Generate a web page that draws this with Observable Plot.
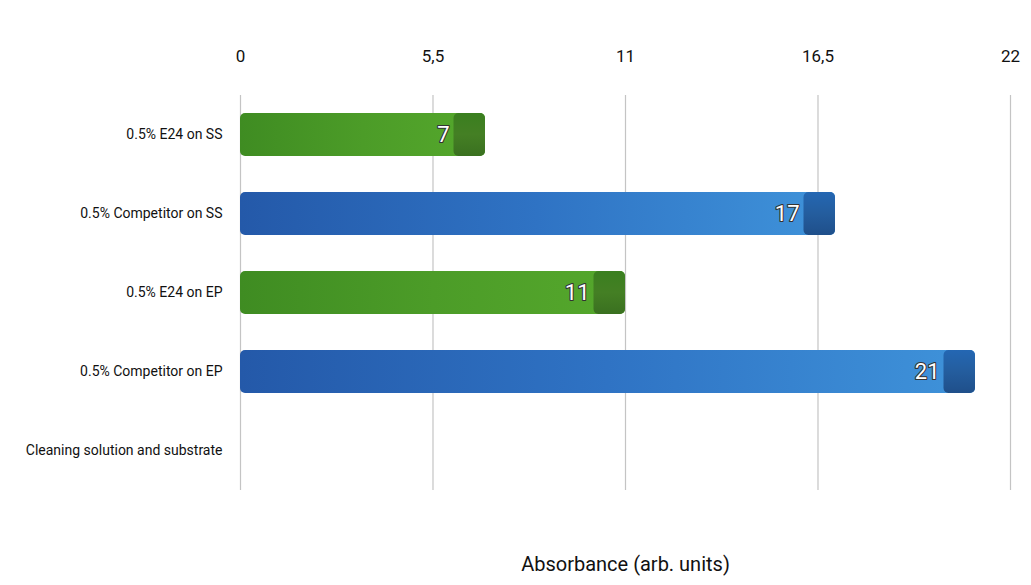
<!DOCTYPE html>
<html>
<head>
<meta charset="utf-8">
<script src="https://cdn.jsdelivr.net/npm/d3@7"></script>
<script src="https://cdn.jsdelivr.net/npm/@observablehq/plot@0.6"></script>
<style>
  html, body { margin: 0; padding: 0; background: #ffffff; }
  #chart { width: 1031px; height: 585px; }
  #chart svg { font-family: "Roboto", "DejaVu Sans", sans-serif; }
</style>
</head>
<body>
<div id="chart"></div>
<script>
// ---- data ----
const categories = [
  "0.5% E24 on SS",
  "0.5% Competitor on SS",
  "0.5% E24 on EP",
  "0.5% Competitor on EP",
  "Cleaning solution and substrate"
];
const values = [7, 17, 11, 21, null];
const series = ["E24", "Competitor", "E24", "Competitor", null];
const tickValues = [0, 5.5, 11, 16.5, 22];
const tickLabels = ["0", "5,5", "11", "16,5", "22"];
const axisTitle = "Absorbance (arb. units)";

const rows = categories.map((c, i) => ({category: c, value: values[i], series: series[i]}))
  .filter(d => d.value != null);

const svg = Plot.plot({
  width: 1031,
  height: 585,
  marginLeft: 240,
  marginRight: 21,
  marginTop: 95,
  marginBottom: 95,
  style: {background: "transparent", fontSize: "13px", color: "#111"},
  x: {domain: [0, 22], ticks: tickValues, tickFormat: (d) => tickLabels[tickValues.indexOf(d)] ?? ""},
  y: {domain: categories, paddingInner: 0.45, paddingOuter: 0.2},
  color: {domain: ["E24", "Competitor"], range: ["url(#gGreen)", "url(#gBlue)"]},
  marks: [
    Plot.gridX(tickValues, {stroke: "#c4c4c4", strokeOpacity: 1, strokeWidth: 1.2}),
    Plot.axisX({anchor: "top", ticks: tickValues, tickSize: 0, tickPadding: 34, fontSize: 17, label: null,
      tickFormat: (d) => tickLabels[tickValues.indexOf(d)]}),
    Plot.axisY({tickSize: 0, tickPadding: 18, fontSize: 14, label: null}),
    Plot.barX(rows, {y: "category", x: "value", fill: "series", rx: 5}),
    Plot.barX(rows, {y: "category", x1: d => d.value - 0.9, x2: "value",
      fill: d => d.series === "E24" ? "url(#gGreenCap)" : "url(#gBlueCap)", rx: 5}),
    Plot.text(rows, {y: "category", x: "value", text: d => String(d.value), dx: -36, textAnchor: "end",
      fill: "white", stroke: "#333", strokeWidth: 2.2, paintOrder: "stroke", fontSize: 22}),
    Plot.text([axisTitle], {frameAnchor: "bottom", dy: 80, fontSize: 20, fill: "#111"})
  ]
});

const defs = d3.select(svg).insert("defs", ":first-child");
function grad(id, stops, vertical) {
  const g = defs.append("linearGradient").attr("id", id)
    .attr("x1", 0).attr("y1", 0).attr("x2", vertical ? 0 : 1).attr("y2", vertical ? 1 : 0);
  stops.forEach(([o, c]) => g.append("stop").attr("offset", o).attr("stop-color", c));
}
grad("gGreen", [[0, "#3f8c22"], [0.5, "#4c9c28"], [1, "#55a82c"]]);
grad("gBlue", [[0, "#2459a9"], [0.5, "#2f73c4"], [1, "#3f93da"]]);
grad("gGreenCap", [[0, "#3a7f1f"], [0.5, "#447f24"], [1, "#3a7020"]], true);
grad("gBlueCap", [[0, "#2467b3"], [0.5, "#245d9e"], [1, "#1f4f8a"]], true);

document.getElementById("chart").append(svg);
</script>
</body>
</html>
